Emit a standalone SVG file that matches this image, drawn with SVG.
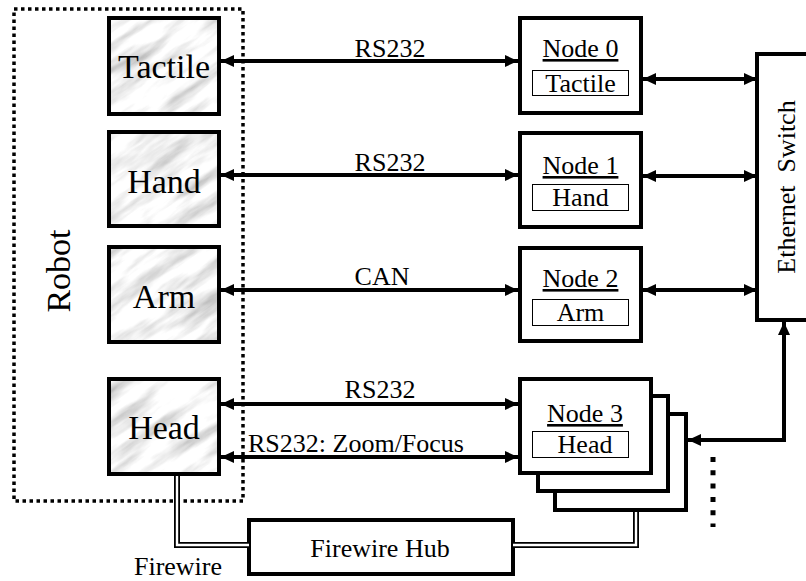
<svg xmlns="http://www.w3.org/2000/svg" width="806" height="581" viewBox="0 0 806 581">
<style>
text{font-family:'Liberation Serif','Times New Roman',serif;fill:#000}
.big{font-size:34px;text-anchor:middle}
.med{font-size:26px;text-anchor:middle}
.lbl{font-size:26px}
.box{fill:#fff;stroke:#000;stroke-width:4}
.inner{fill:#fff;stroke:#000;stroke-width:1}
.rb{fill:url(#marb);stroke:#000;stroke-width:4}
.conn{fill:none;stroke:#000;stroke-width:4;marker-start:url(#ah);marker-end:url(#ah)}
.fw1{fill:none;stroke:#000;stroke-width:6}
.fw2{fill:none;stroke:#fff;stroke-width:2.4}
</style>
<defs>
<marker id="ah" markerUnits="userSpaceOnUse" markerWidth="13" markerHeight="12" viewBox="0 0 13 12" refX="13" refY="6" orient="auto-start-reverse"><path d="M0,0 L13,6 L0,12 z" fill="#000"/></marker>
<filter id="marble" x="0" y="0" width="100%" height="100%" filterUnits="objectBoundingBox">
<feTurbulence type="fractalNoise" baseFrequency="0.015 0.07" numOctaves="4" seed="11" stitchTiles="stitch" result="n"/>
<feColorMatrix in="n" type="matrix" values="1.1 0 0 0 0.36  1.1 0 0 0 0.36  1.1 0 0 0 0.36  0 0 0 0 1" result="g"/>
<feComposite in="g" in2="SourceGraphic" operator="in"/>
</filter>
<pattern id="marb" patternUnits="userSpaceOnUse" x="-200" y="-200" width="1000" height="1000" patternTransform="rotate(-35 164 250)">
<rect width="1000" height="1000" fill="#fff" filter="url(#marble)"/>
</pattern>
</defs>

<g id="robot">
<rect x="14" y="9" width="229" height="492" fill="none" stroke="#000" stroke-width="3.5" stroke-dasharray="3.5 3.5"/>
<text class="big" font-size="35" transform="translate(70,271) rotate(-90)">Robot</text>
</g>

<g id="tactile">
<rect class="rb" x="109" y="18" width="110" height="96"/>
<text class="big" x="164" y="78">Tactile</text>
</g>
<g id="hand">
<rect class="rb" x="109" y="132" width="110" height="94"/>
<text class="big" x="164" y="193">Hand</text>
</g>
<g id="arm">
<rect class="rb" x="109" y="247" width="110" height="95"/>
<text class="big" x="164" y="308">Arm</text>
</g>
<g id="head">
<rect class="rb" x="109" y="379" width="110" height="95"/>
<text class="big" x="164" y="439">Head</text>
</g>

<g id="node0">
<rect class="box" x="520" y="18" width="121" height="95"/>
<text class="med" x="580.5" y="57" text-decoration="underline">Node 0</text>
<rect class="inner" x="532.5" y="70.5" width="96" height="25"/>
<text class="med" x="580.5" y="92">Tactile</text>
</g>
<g id="node1">
<rect class="box" x="520" y="133" width="121" height="94"/>
<text class="med" x="580.5" y="174" text-decoration="underline">Node 1</text>
<rect class="inner" x="532.5" y="184.5" width="96" height="26"/>
<text class="med" x="580.5" y="206">Hand</text>
</g>
<g id="node2">
<rect class="box" x="520" y="248" width="121" height="93"/>
<text class="med" x="580.5" y="287" text-decoration="underline">Node 2</text>
<rect class="inner" x="532.5" y="299.5" width="96" height="26"/>
<text class="med" x="580.5" y="321">Arm</text>
</g>
<g id="node3">
<rect class="box" x="555" y="414" width="131" height="96"/>
<rect class="box" x="538" y="396" width="130" height="95"/>
<rect class="box" x="520" y="379" width="131" height="94"/>
<text class="med" x="585" y="422" text-decoration="underline">Node 3</text>
<rect class="inner" x="532.5" y="431.5" width="96" height="26"/>
<text class="med" x="585" y="453">Head</text>
</g>

<g id="switch">
<rect class="box" x="757" y="54" width="70" height="266"/>
<text class="med" transform="translate(795,187) rotate(-90)">Ethernet&#160; Switch</text>
</g>

<g id="hub">
<rect class="box" x="249" y="520" width="264" height="54"/>
<text class="med" x="380" y="557">Firewire Hub</text>
</g>

<g id="connectors">
<path class="conn" d="M221,61 H518"/>
<path class="conn" d="M221,175 H518"/>
<path class="conn" d="M221,290 H518"/>
<path class="conn" d="M221,404 H518"/>
<path class="conn" d="M221,457 H518"/>
<path class="conn" d="M643,79 H757"/>
<path class="conn" d="M643,176 H757"/>
<path class="conn" d="M643,290 H757"/>
<path class="conn" d="M784,322 V440 H688"/>
<path d="M713,457 V527" fill="none" stroke="#000" stroke-width="5" stroke-dasharray="5 8.3"/>
<path class="fw1" d="M177,476 V545 H249"/>
<path class="fw2" d="M177,476 V545 H249"/>
<path class="fw1" d="M513,545 H636 V512"/>
<path class="fw2" d="M513,545 H636 V512"/>
<text class="lbl" x="390" y="57" text-anchor="middle">RS232</text>
<text class="lbl" x="390" y="171" text-anchor="middle">RS232</text>
<text class="lbl" x="382" y="285" text-anchor="middle">CAN</text>
<text class="lbl" x="380" y="398" text-anchor="middle">RS232</text>
<text class="lbl" x="248" y="452">RS232: Zoom/Focus</text>
<text class="med" x="178" y="575">Firewire</text>
</g>
</svg>
